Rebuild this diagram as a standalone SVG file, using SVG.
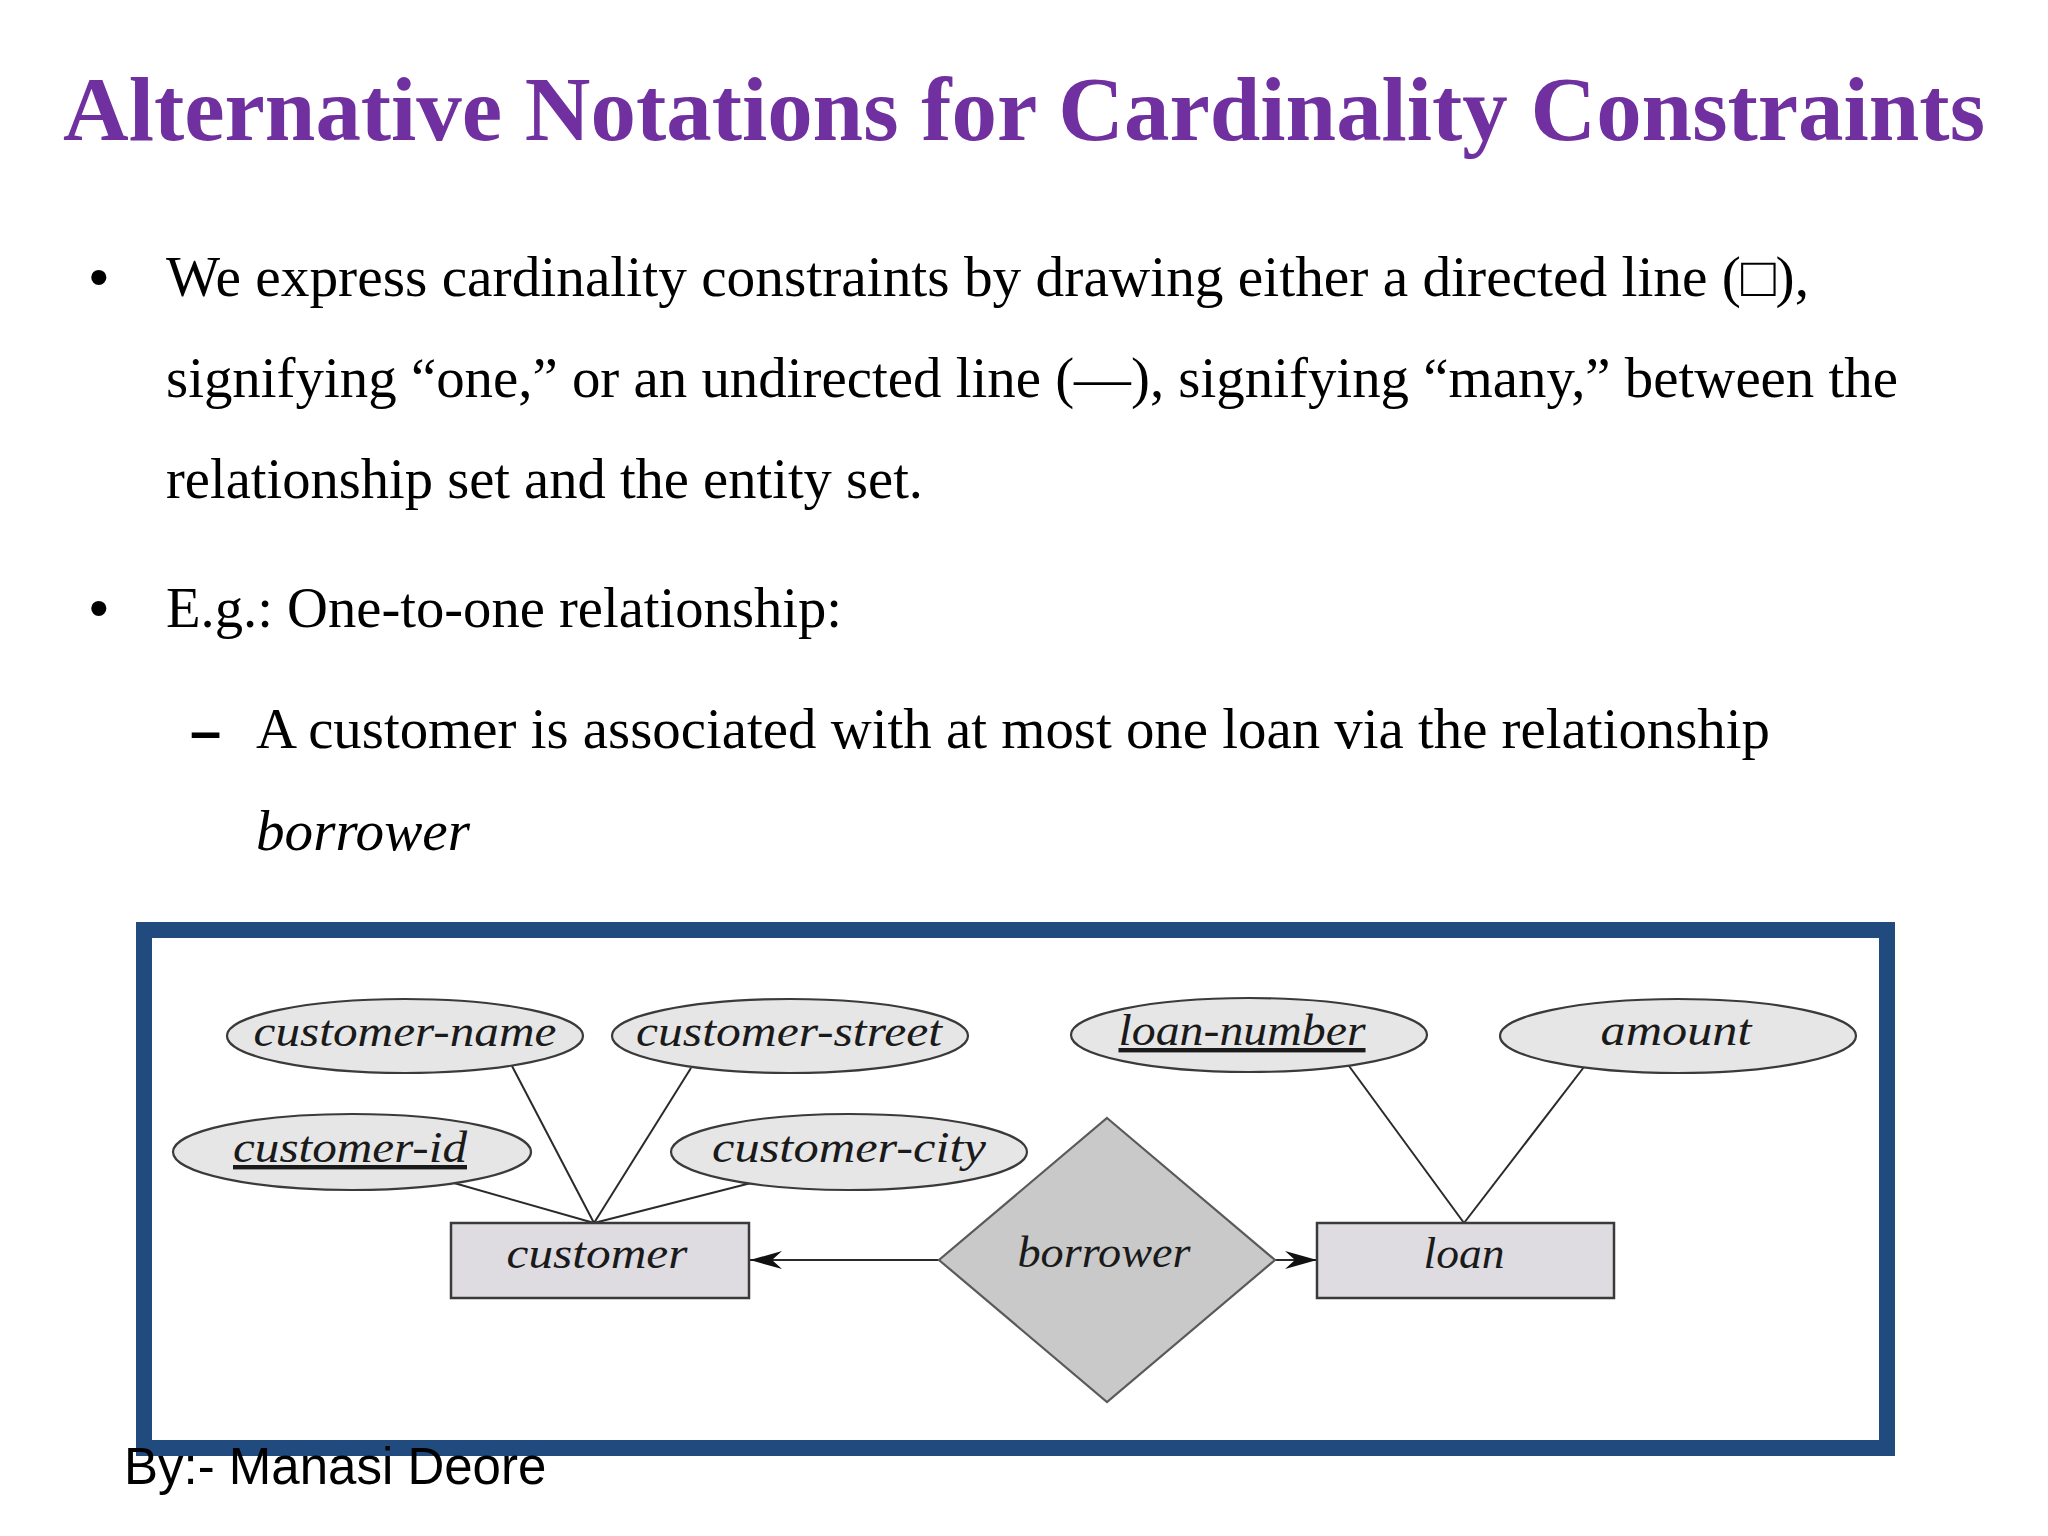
<svg xmlns="http://www.w3.org/2000/svg" width="2048" height="1536" viewBox="0 0 2048 1536">
  <style>
    .title { font-family: "Liberation Serif", "Times New Roman", serif; font-weight: bold; font-size: 91px; fill: #7030A0; }
    .body { font-family: "Liberation Serif", "Times New Roman", serif; font-size: 56px; fill: #000; }
    .bul { font-family: "Liberation Sans", Arial, sans-serif; font-size: 56px; fill: #000; }
    .it { font-style: italic; }
    .er { font-family: "Liberation Serif", "Times New Roman", serif; font-style: italic; font-size: 44px; fill: #1a1a1a; text-anchor: middle; }
    .ul { text-decoration: underline; }
    .attr { fill: #E6E6E6; stroke: #3a3a3a; stroke-width: 2.2; }
    .ent { fill: #DEDCE0; stroke: #3a3a3a; stroke-width: 2.5; }
    .rel { fill: #C9C9C9; stroke: #5a5a5a; stroke-width: 2.2; }
    .conn line { stroke: #2a2a2a; stroke-width: 2; }
    .foot { font-family: "Liberation Sans", Arial, sans-serif; font-size: 51px; fill: #000; }
  </style>
  <defs>
    <marker id="arr" viewBox="-34 -11 36 22" refX="0" refY="0" markerWidth="36" markerHeight="22" markerUnits="userSpaceOnUse" orient="auto">
      <path d="M0,0 L-32,-9 L-22,0 L-32,9 Z" fill="#111"/>
    </marker>
  </defs>
  <rect x="0" y="0" width="2048" height="1536" fill="#FFFFFF"/>

  <text class="title" x="63" y="140" textLength="1922" lengthAdjust="spacingAndGlyphs">Alternative Notations for Cardinality Constraints</text>

  <g id="bullets">
    <text class="bul" x="89" y="296">•</text>
    <text class="body" x="166" y="296" textLength="1643" lengthAdjust="spacingAndGlyphs">We express cardinality constraints by drawing either a directed line (□),</text>
    <text class="body" x="166" y="397" textLength="1732" lengthAdjust="spacingAndGlyphs">signifying “one,” or an undirected line (—), signifying “many,” between the</text>
    <text class="body" x="166" y="498" textLength="757" lengthAdjust="spacingAndGlyphs">relationship set and the entity set.</text>
    <text class="bul" x="89" y="627">•</text>
    <text class="body" x="166" y="627" textLength="676" lengthAdjust="spacingAndGlyphs">E.g.: One-to-one relationship:</text>
    <text class="bul" x="190" y="750" font-weight="bold">–</text>
    <text class="body" x="256" y="748" textLength="1514" lengthAdjust="spacingAndGlyphs">A customer is associated with at most one loan via the relationship</text>
    <text class="body it" x="256" y="850" textLength="214" lengthAdjust="spacingAndGlyphs">borrower</text>
  </g>

  <rect id="frame" x="144" y="930" width="1743" height="518" fill="none" stroke="#214B7E" stroke-width="16"/>

  <g id="connectors" class="conn">
    <line x1="512" y1="1066" x2="594" y2="1223"/>
    <line x1="691" y1="1068" x2="594" y2="1223"/>
    <line x1="454" y1="1183" x2="594" y2="1223"/>
    <line x1="751" y1="1183" x2="594" y2="1223"/>
    <line x1="1349" y1="1066" x2="1464" y2="1223"/>
    <line x1="1584" y1="1067" x2="1464" y2="1223"/>
    <line x1="939" y1="1260" x2="750" y2="1260" marker-end="url(#arr)"/>
    <line x1="1275" y1="1260" x2="1317" y2="1260" marker-end="url(#arr)"/>
  </g>

  <g id="customer-name">
    <ellipse class="attr" cx="405" cy="1036" rx="178" ry="37"/>
    <text class="er" x="405" y="1046" textLength="303" lengthAdjust="spacingAndGlyphs">customer-name</text>
  </g>
  <g id="customer-street">
    <ellipse class="attr" cx="790" cy="1036" rx="178" ry="37"/>
    <text class="er" x="789" y="1046" textLength="306" lengthAdjust="spacingAndGlyphs">customer-street</text>
  </g>
  <g id="customer-id">
    <ellipse class="attr" cx="352" cy="1152" rx="179" ry="38"/>
    <text class="er ul" x="350" y="1162" textLength="234" lengthAdjust="spacingAndGlyphs">customer-id</text>
  </g>
  <g id="customer-city">
    <ellipse class="attr" cx="849" cy="1152" rx="178" ry="38"/>
    <text class="er" x="849" y="1162" textLength="274" lengthAdjust="spacingAndGlyphs">customer-city</text>
  </g>
  <g id="customer">
    <rect class="ent" x="451" y="1223" width="298" height="75"/>
    <text class="er" x="597" y="1268" textLength="181" lengthAdjust="spacingAndGlyphs">customer</text>
  </g>
  <g id="borrower">
    <polygon class="rel" points="1107,1118 1275,1260 1107,1402 939,1260"/>
    <text class="er" x="1104" y="1267" textLength="173" lengthAdjust="spacingAndGlyphs">borrower</text>
  </g>
  <g id="loan">
    <rect class="ent" x="1317" y="1223" width="297" height="75"/>
    <text class="er" x="1464" y="1268" textLength="81" lengthAdjust="spacingAndGlyphs">loan</text>
  </g>
  <g id="loan-number">
    <ellipse class="attr" cx="1249" cy="1035" rx="178" ry="37"/>
    <text class="er ul" x="1242" y="1045" textLength="247" lengthAdjust="spacingAndGlyphs">loan-number</text>
  </g>
  <g id="amount">
    <ellipse class="attr" cx="1678" cy="1036" rx="178" ry="37"/>
    <text class="er" x="1676" y="1045" textLength="151" lengthAdjust="spacingAndGlyphs">amount</text>
  </g>

  <text class="foot" x="124" y="1484">By:- Manasi Deore</text>
</svg>
